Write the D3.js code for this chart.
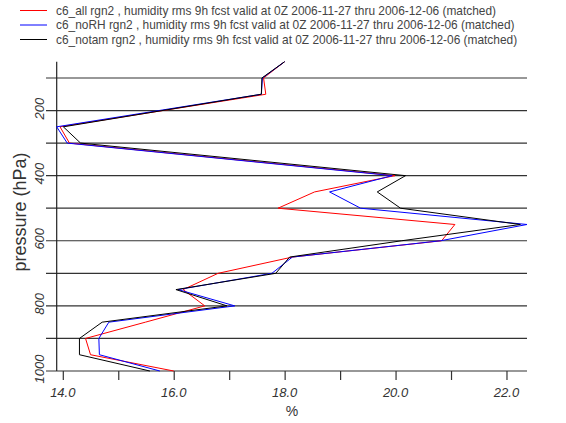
<!DOCTYPE html>
<html><head><meta charset="utf-8">
<script src="https://cdn.jsdelivr.net/npm/d3@7"></script>
<style>
html,body{margin:0;padding:0;background:#fff;}
svg{display:block;font-family:"Liberation Sans",Arial,sans-serif;}
</style></head>
<body>
<svg id="chart" width="566" height="423"></svg>
<script>
const levels = [50,100,150,250,300,400,450,500,550,600,650,700,750,800,850,900,950,1000];
const seriesNames = [
  "c6_all rgn2 , humidity rms 9h fcst valid at 0Z 2006-11-27 thru 2006-12-06 (matched)",
  "c6_noRH rgn2 , humidity rms 9h fcst valid at 0Z 2006-11-27 thru 2006-12-06 (matched)",
  "c6_notam rgn2 , humidity rms 9h fcst valid at 0Z 2006-11-27 thru 2006-12-06 (matched)"
];
const seriesColors = ["#ff0000","#0000ff","#000000"];
const allValues   = [18.0,17.62,17.66,13.95,14.12,19.99,18.54,17.88,21.07,20.83,18.14,16.80,16.17,16.56,15.49,14.41,14.50,16.00];
const noRHValues  = [18.0,17.60,17.58,13.89,14.08,19.94,18.81,19.37,22.37,20.81,18.14,17.77,16.08,17.10,14.83,14.65,14.66,15.75];
const notamValues = [18.0,17.59,17.58,14.01,14.32,20.18,19.67,20.09,22.25,20.11,18.09,17.84,16.04,16.96,14.71,14.30,14.30,15.57];
const xTicks = [14,15,16,17,18,19,20,21,22];
const xTickLabels = [14,16,18,20,22];
const yGrid = [100,200,300,400,500,600,700,800,900,1000];
const yTickLabels = [200,400,600,800,1000];

const series = [allValues, noRHValues, notamValues];
const svg = d3.select("#chart");
const all = series.flat();
const x = d3.scaleLinear().domain([d3.min(all), d3.max(all)]).range([56.7, 527]);
const y = d3.scaleLinear().domain([50, 1000]).range([61.7, 371]);

// grid lines
svg.append("g").selectAll("line").data(yGrid).join("line")
  .attr("x1", 46).attr("x2", 527)
  .attr("y1", d => y(d)).attr("y2", d => y(d))
  .attr("stroke", "#333").attr("stroke-width", 1.2);

// y axis line
svg.append("line").attr("x1", x.range()[0]).attr("x2", x.range()[0])
  .attr("y1", y(50)).attr("y2", y(1000)).attr("stroke", "#222").attr("stroke-width", 1.2);

// x ticks
const xAxis = d3.axisBottom(x).tickValues(xTicks).tickSize(9).tickFormat("");
const gx = svg.append("g").attr("transform", `translate(0,${y(1000)})`).call(xAxis);
gx.select(".domain").remove();
gx.selectAll(".tick line").attr("stroke", "#333").attr("stroke-width", 1.2);

svg.append("g").selectAll("text").data(xTickLabels).join("text")
  .attr("x", d => x(d)).attr("y", 397)
  .attr("text-anchor", "middle").attr("font-size", 13).attr("font-style", "italic")
  .attr("fill", "#333").text(d => d3.format(".1f")(d));

svg.append("g").selectAll("text").data(yTickLabels).join("text")
  .attr("transform", d => `translate(43.5,${y(d) - 2}) rotate(-90)`)
  .attr("text-anchor", "middle").attr("font-size", 13).attr("font-style", "italic")
  .attr("fill", "#333").text(d => d);

// axis titles
svg.append("text").attr("x", 292).attr("y", 416).attr("text-anchor", "middle")
  .attr("font-size", 14).attr("fill", "#333").text("%");
svg.append("text").attr("transform", "translate(26,212) rotate(-90)")
  .attr("text-anchor", "middle").attr("font-size", 18).attr("fill", "#333").text("pressure (hPa)");

// lines
const line = d3.line().x(d => x(d[0])).y(d => y(d[1]));
series.forEach((vals, i) => {
  svg.append("path").datum(vals.map((v, j) => [v, levels[j]]))
    .attr("d", line).attr("fill", "none")
    .attr("stroke", seriesColors[i]).attr("stroke-width", 1);
});

// legend
const leg = svg.append("g");
seriesNames.forEach((name, i) => {
  const ly = 10.5 + i * 14.5;
  leg.append("line").attr("x1", 20).attr("x2", 47).attr("y1", ly).attr("y2", ly)
    .attr("stroke", seriesColors[i]).attr("stroke-width", 1);
  leg.append("text").attr("x", 56).attr("y", ly + 4).attr("font-size", 11.9)
    .attr("fill", "#444").text(name);
});
</script>
</body></html>
